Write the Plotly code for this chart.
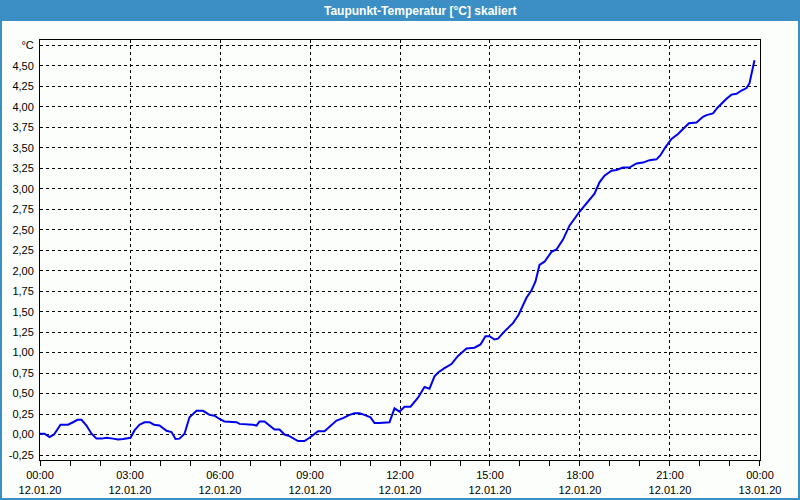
import plotly.graph_objects as go

DAY = "2020-01-12"

times = [
    "00:00", "00:09", "00:19", "00:28", "00:41", "00:56", "01:06", "01:15", "01:23", "01:33",
    "01:43", "01:53", "02:03", "02:13", "02:26", "02:36", "02:46", "02:56", "03:01", "03:09",
    "03:19", "03:29", "03:39", "03:48", "03:59", "04:13", "04:23", "04:31", "04:39", "04:49",
    "04:59", "05:13", "05:26", "05:39", "05:49", "05:59",
    "06:09", "06:33", "06:39", "07:06", "07:13", "07:19", "07:29", "07:49", "07:59", "08:09",
    "08:19", "08:36", "08:49", "08:59", "09:16", "09:29", "09:43", "09:53", "10:06", "10:19",
    "10:29", "10:39", "10:49", "11:01", "11:09", "11:19", "11:39", "11:49", "11:59",
    "12:09", "12:21", "12:36", "12:49", "12:59", "13:09", "13:17", "13:29", "13:43", "13:56",
    "14:13", "14:29", "14:41", "14:51", "14:59", "15:09", "15:16", "15:29", "15:46", "15:57",
    "16:06", "16:13", "16:23", "16:31", "16:39", "16:49", "17:03", "17:13", "17:26", "17:39",
    "17:59",
    "18:13", "18:29", "18:39", "18:49", "19:03", "19:13", "19:26", "19:39", "19:53", "20:06",
    "20:19", "20:33", "20:41", "20:51", "21:03", "21:16", "21:26", "21:38", "21:53", "22:06",
    "22:13", "22:26", "22:35", "22:44", "22:53", "23:03", "23:13", "23:23", "23:33", "23:39",
    "23:44", "23:49",
]

values = [
    0.01, 0.01, -0.03, 0.00, 0.12, 0.12, 0.15, 0.18, 0.18, 0.11,
    0.01, -0.05, -0.05, -0.04, -0.05, -0.06, -0.055, -0.04, -0.04, 0.05,
    0.12, 0.15, 0.15, 0.12, 0.11, 0.045, 0.03, -0.055, -0.05, 0.01,
    0.21, 0.29, 0.29, 0.24, 0.23, 0.19,
    0.16, 0.15, 0.13, 0.12, 0.11, 0.16, 0.16, 0.06, 0.06, 0.00,
    -0.02, -0.08, -0.08, -0.04, 0.04, 0.04, 0.11, 0.17, 0.20, 0.24,
    0.26, 0.26, 0.24, 0.21, 0.14, 0.14, 0.15, 0.32, 0.28,
    0.34, 0.34, 0.45, 0.58, 0.56, 0.71, 0.76, 0.81, 0.86, 0.96,
    1.05, 1.06, 1.10, 1.20, 1.20, 1.16, 1.17, 1.26, 1.36, 1.46,
    1.58, 1.67, 1.76, 1.87, 2.07, 2.11, 2.23, 2.26, 2.38, 2.55,
    2.72,
    2.82, 2.94, 3.08, 3.16, 3.22, 3.23, 3.26, 3.26, 3.31, 3.32,
    3.35, 3.36, 3.41, 3.51, 3.61, 3.67, 3.73, 3.80, 3.81, 3.88,
    3.90, 3.92, 3.99, 4.05, 4.10, 4.15, 4.16, 4.20, 4.23, 4.29,
    4.43, 4.57,
]

y_tickvals = [-0.25 + 0.25 * i for i in range(21)]
y_ticktext = [("%.2f" % v).replace(".", ",") for v in y_tickvals[:-1]] + ["°C"]

title_text = "Taupunkt-Temperatur [°C] skaliert"

x = [f"{DAY} {t}" for t in times]

fig = go.Figure()
fig.add_trace(go.Scatter(
    x=x, y=values, mode="lines",
    line=dict(color="#0000f0", width=2),
    hoverinfo="skip",
))

W, H = 800, 500
L, R, T, B = 40, 40, 40, 40
pw, ph = W - L - R, H - T - B


def px(xp):
    return (xp - L) / pw


def py(yp):
    return (H - B - yp) / ph


font = dict(family="Liberation Sans, Arial, sans-serif", size=11, color="#000000")

fig.update_layout(
    width=W, height=H,
    margin=dict(l=L, r=R, t=T, b=B, autoexpand=False),
    paper_bgcolor="#fbfefb",
    plot_bgcolor="#fbfefb",
    showlegend=False,
    font=font,
    xaxis=dict(
        type="date",
        automargin=False,
        range=["2020-01-12 00:00:00", "2020-01-13 00:00:01"],
        tickmode="linear",
        tick0="2020-01-12 00:00",
        dtick=3 * 3600000,
        tickformat="%H:%M<br>%d.%m.%y",
        ticks="outside", ticklen=5, tickcolor="black", tickwidth=1,
        minor=dict(dtick=3600000, ticks="outside", ticklen=5, tickcolor="black", showgrid=False),
        showgrid=True, gridcolor="black", gridwidth=1, griddash="3px,3px",
        showline=True, linecolor="black", linewidth=1, mirror=True,
        zeroline=False,
        fixedrange=True,
    ),
    yaxis=dict(
        automargin=False,
        range=[-0.311, 4.817],
        tickmode="array",
        tickvals=y_tickvals,
        ticktext=y_ticktext,
        ticks="outside", ticklen=3, tickcolor="#fbfefb",
        showgrid=True, gridcolor="black", gridwidth=1, griddash="3px,3px",
        showline=True, linecolor="black", linewidth=1, mirror=True,
        zeroline=False,
        fixedrange=True,
    ),
    shapes=[
        dict(type="rect", xref="paper", yref="paper",
             x0=px(0), x1=px(800), y0=py(21), y1=py(0),
             fillcolor="#3b8fc4", line=dict(width=0), layer="above"),
        dict(type="rect", xref="paper", yref="paper",
             x0=px(1), x1=px(799), y0=py(499), y1=py(20),
             line=dict(color="#3b8fc4", width=2), fillcolor="rgba(0,0,0,0)"),
    ],
    annotations=[
        dict(text="<b>" + title_text + "</b>", xref="paper", yref="paper",
             x=px(420), y=py(10.5), xanchor="center", yanchor="middle",
             showarrow=False,
             font=dict(family="Liberation Sans, Arial, sans-serif", size=12, color="white")),
    ],
)

fig.write_html("out.html")
